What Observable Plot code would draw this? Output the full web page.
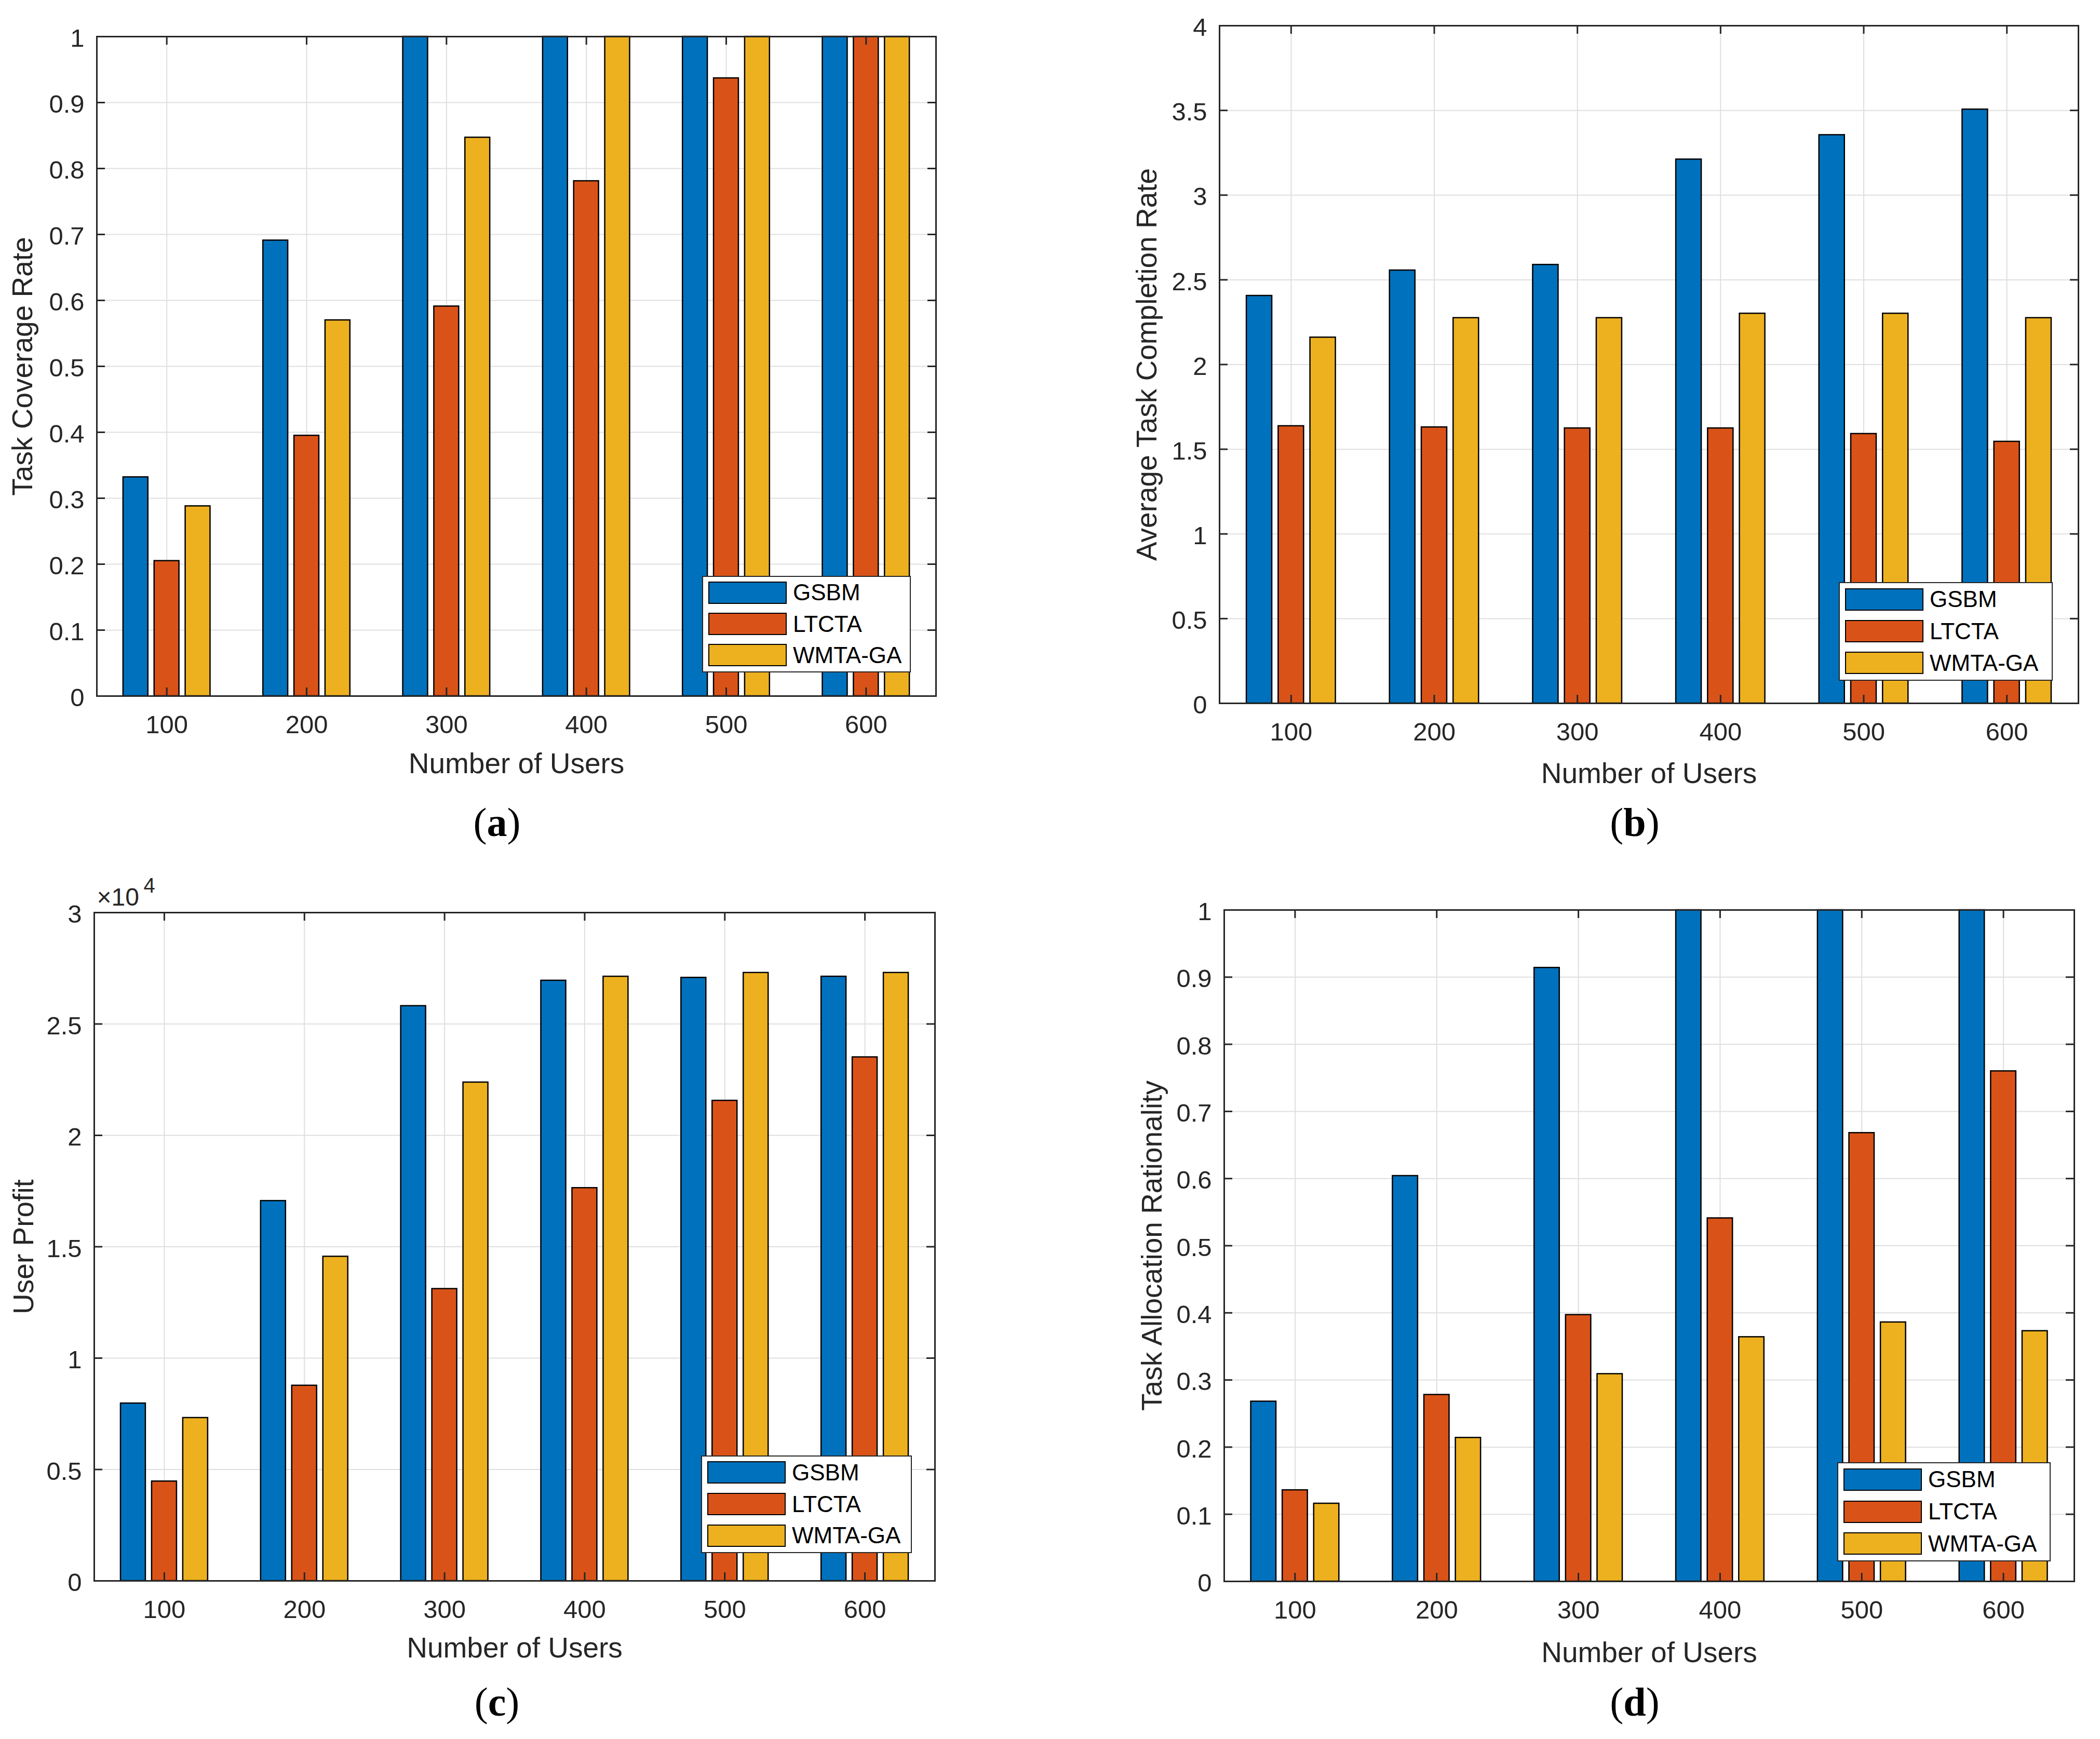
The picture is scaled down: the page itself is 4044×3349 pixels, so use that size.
<!DOCTYPE html>
<html>
<head>
<meta charset="utf-8">
<script src="https://cdn.jsdelivr.net/npm/d3@7"></script>
<script src="https://cdn.jsdelivr.net/npm/@observablehq/plot@0.6"></script>
<style>
  html, body { margin: 0; padding: 0; background: #fff; }
  #page { position: relative; width: 4044px; height: 3349px; overflow: hidden; background: #fff; }
  .panel { position: absolute; }
  .legend { position: absolute; background: #fff; border: 2.5px solid #262626; box-sizing: border-box; }
  .sw { position: absolute; border: 2.5px solid #000; box-sizing: border-box; }
  .lt { position: absolute; font-family: "Liberation Sans", Arial, Helvetica, sans-serif; font-size: 44px; color: #000; line-height: 1; white-space: nowrap; }
  .cap { position: absolute; font-family: "Liberation Serif", "Times New Roman", serif; font-size: 78px; color: #000; line-height: 1; white-space: nowrap; transform: translateX(-50%); }
</style>
</head>
<body>
<div id="page"></div>
<script>
// ---------------- data ----------------
const categories = ["100", "200", "300", "400", "500", "600"];
const series = ["GSBM", "LTCTA", "WMTA-GA"];
const colors = ["#0072BD", "#D95319", "#EDB120"];
const xLabel = "Number of Users";

// (a) Task Coverage Rate
const coverageGSBM  = [0.332, 0.691, 1.000, 1.000, 1.000, 1.000];
const coverageLTCTA = [0.205, 0.395, 0.591, 0.781, 0.937, 1.000];
const coverageWMTA  = [0.288, 0.570, 0.847, 1.000, 1.000, 1.000];

// (b) Average Task Completion Rate
const completionGSBM  = [2.406, 2.556, 2.589, 3.211, 3.355, 3.506];
const completionLTCTA = [1.637, 1.630, 1.624, 1.624, 1.591, 1.545];
const completionWMTA  = [2.160, 2.275, 2.275, 2.301, 2.301, 2.275];

// (c) User Profit
const profitGSBM  = [7970, 17060, 25810, 26950, 27080, 27130];
const profitLTCTA = [4470, 8770, 13110, 17640, 21560, 23510];
const profitWMTA  = [7320, 14560, 22380, 27130, 27300, 27300];

// (d) Task Allocation Rationality
const rationalityGSBM  = [0.268, 0.604, 0.914, 1.000, 1.000, 1.000];
const rationalityLTCTA = [0.136, 0.278, 0.397, 0.541, 0.668, 0.760];
const rationalityWMTA  = [0.116, 0.214, 0.309, 0.364, 0.386, 0.373];

// tick values and labels
const xTickPos = [1, 2, 3, 4, 5, 6];
const tenthTicks  = [0, 0.1, 0.2, 0.3, 0.4, 0.5, 0.6, 0.7, 0.8, 0.9, 1];
const tenthLabels = ["0", "0.1", "0.2", "0.3", "0.4", "0.5", "0.6", "0.7", "0.8", "0.9", "1"];
const halfTicks  = [0, 0.5, 1, 1.5, 2, 2.5, 3, 3.5, 4];
const halfLabels = ["0", "0.5", "1", "1.5", "2", "2.5", "3", "3.5", "4"];
const profitTicks  = [0, 5000, 10000, 15000, 20000, 25000, 30000];
const profitLabels = ["0", "0.5", "1", "1.5", "2", "2.5", "3"];
const captions = ["a", "b", "c", "d"];

// ---------------- layout ----------------
const FONT = '"Liberation Sans", Arial, Helvetica, sans-serif';
const INK = "#262626";
const GRID = "#dfdfdf";
const groupWidth = 3 / 4.5;           // MATLAB grouped bar width
const slot = groupWidth / 3;
const halfBar = slot * 0.8 / 2;

const panels = [
  { cap: captions[0], ylabel: "Task Coverage Rate", values: [coverageGSBM, coverageLTCTA, coverageWMTA],
    yDomain: [0, 1], yTicks: tenthTicks, yLabels: tenthLabels,
    ox: 0, oy: 0, w: 2022, h: 1675, L: 186, R: 1802, T: 70, B: 1340,
    xlabDy: 131, ylabDx: -142, capX: 957, capBase: 1610,
    leg: { x: 1352, y: 1109, w: 402, h: 186 } },
  { cap: captions[1], ylabel: "Average Task Completion Rate", values: [completionGSBM, completionLTCTA, completionWMTA],
    yDomain: [0, 4], yTicks: halfTicks, yLabels: halfLabels,
    ox: 2022, oy: 0, w: 2022, h: 1675, L: 2348, R: 4002, T: 49, B: 1354,
    xlabDy: 136, ylabDx: -139, capX: 3148, capBase: 1610,
    leg: { x: 3541, y: 1121, w: 412, h: 190 } },
  { cap: captions[2], ylabel: "User Profit", values: [profitGSBM, profitLTCTA, profitWMTA],
    yDomain: [0, 30000], yTicks: profitTicks, yLabels: profitLabels, exponent: true,
    ox: 0, oy: 1675, w: 2022, h: 1674, L: 181, R: 1800, T: 1757, B: 3044,
    xlabDy: 130, ylabDx: -135, capX: 957, capBase: 3304,
    leg: { x: 1350, y: 2803, w: 406, h: 188 } },
  { cap: captions[3], ylabel: "Task Allocation Rationality", values: [rationalityGSBM, rationalityLTCTA, rationalityWMTA],
    yDomain: [0, 1], yTicks: tenthTicks, yLabels: tenthLabels,
    ox: 2022, oy: 1675, w: 2022, h: 1674, L: 2357, R: 3994, T: 1752, B: 3045,
    xlabDy: 138, ylabDx: -138, capX: 3148, capBase: 3304,
    leg: { x: 3538, y: 2816, w: 411, h: 191 } }
];

const page = document.getElementById("page");

function drawPanel(cfg) {
  const fw = cfg.R - cfg.L, fh = cfg.B - cfg.T;
  const rows = [];
  cfg.values.forEach((arr, s) => arr.forEach((v, i) => rows.push({ i, s, v, series: series[s] })));

  const marks = [
    Plot.ruleX(xTickPos, { x: d => d, stroke: GRID, strokeWidth: 2 }),
    Plot.ruleY(cfg.yTicks, { y: d => d, stroke: GRID, strokeWidth: 2 }),
    Plot.rect(rows, {
      x1: d => d.i + 1 + (d.s - 1) * slot - halfBar,
      x2: d => d.i + 1 + (d.s - 1) * slot + halfBar,
      y1: 0, y2: "v",
      fill: "series", stroke: "#000", strokeWidth: 2.5
    }),
    Plot.tickY(cfg.yTicks, { y: d => d, stroke: INK, strokeWidth: 3, insetRight: fw - 16 }),
    Plot.tickY(cfg.yTicks, { y: d => d, stroke: INK, strokeWidth: 3, insetLeft: fw - 16 }),
    Plot.tickX(xTickPos, { x: d => d, stroke: INK, strokeWidth: 3, insetBottom: fh - 16 }),
    Plot.tickX(xTickPos, { x: d => d, stroke: INK, strokeWidth: 3, insetTop: fh - 16 }),
    Plot.frame({ stroke: INK, strokeWidth: 3 }),
    Plot.axisX(xTickPos, { tickSize: 0, tickPadding: 37, fontSize: 49, tickFormat: d => categories[d - 1], label: null }),
    Plot.axisY(cfg.yTicks, { tickSize: 0, tickPadding: 24, fontSize: 49, dy: 4,
      tickFormat: d => cfg.yLabels[cfg.yTicks.indexOf(d)], label: null }),
    Plot.text([xLabel], { text: d => d, frameAnchor: "bottom", textAnchor: "middle", dy: cfg.xlabDy, fontSize: 55, lineAnchor: "middle", fill: INK }),
    Plot.text([cfg.ylabel], { text: d => d, frameAnchor: "left", textAnchor: "middle", dx: cfg.ylabDx, rotate: -90, fontSize: 55, lineAnchor: "middle", fill: INK })
  ];
  if (cfg.exponent) {
    marks.push(Plot.text(["\u00d710"], { text: d => d, frameAnchor: "top-left", textAnchor: "start", lineAnchor: "middle", dx: 5, dy: -29, fontSize: 48, fill: INK }));
    marks.push(Plot.text(["4"], { text: d => d, frameAnchor: "top-left", textAnchor: "start", lineAnchor: "middle", dx: 95, dy: -51, fontSize: 40, fill: INK }));
  }

  const svg = Plot.plot({
    width: cfg.w, height: cfg.h,
    marginLeft: cfg.L - cfg.ox, marginRight: cfg.ox + cfg.w - cfg.R,
    marginTop: cfg.T - cfg.oy, marginBottom: cfg.oy + cfg.h - cfg.B,
    style: { fontFamily: FONT, color: INK, background: "transparent", overflow: "visible" },
    x: { type: "linear", domain: [0.5, 6.5] },
    y: { domain: cfg.yDomain },
    color: { domain: series, range: colors },
    marks
  });
  svg.classList.add("panel");
  svg.style.left = cfg.ox + "px";
  svg.style.top = cfg.oy + "px";
  page.appendChild(svg);

  // legend (HTML overlay)
  const lg = document.createElement("div");
  lg.className = "legend";
  Object.assign(lg.style, { left: cfg.leg.x + "px", top: cfg.leg.y + "px", width: cfg.leg.w + "px", height: cfg.leg.h + "px" });
  series.forEach((name, k) => {
    const cy = cfg.leg.h / 2 + (k - 1) * 0.323 * cfg.leg.h;
    const sw = document.createElement("div");
    sw.className = "sw";
    Object.assign(sw.style, { left: "10px", top: (cy - 21.5 - 2.5) + "px", width: "151px", height: "43px", background: colors[k] });
    lg.appendChild(sw);
    const t = document.createElement("div");
    t.className = "lt";
    t.textContent = name;
    Object.assign(t.style, { left: "173px", top: (cy - 22 - 2.5) + "px" });
    lg.appendChild(t);
  });
  page.appendChild(lg);

  // caption
  const c = document.createElement("div");
  c.className = "cap";
  c.innerHTML = "(<b>" + cfg.cap + "</b>)";
  Object.assign(c.style, { left: cfg.capX + "px", top: (cfg.capBase - 65) + "px" });
  page.appendChild(c);
}

panels.forEach(drawPanel);
</script>
</body>
</html>
